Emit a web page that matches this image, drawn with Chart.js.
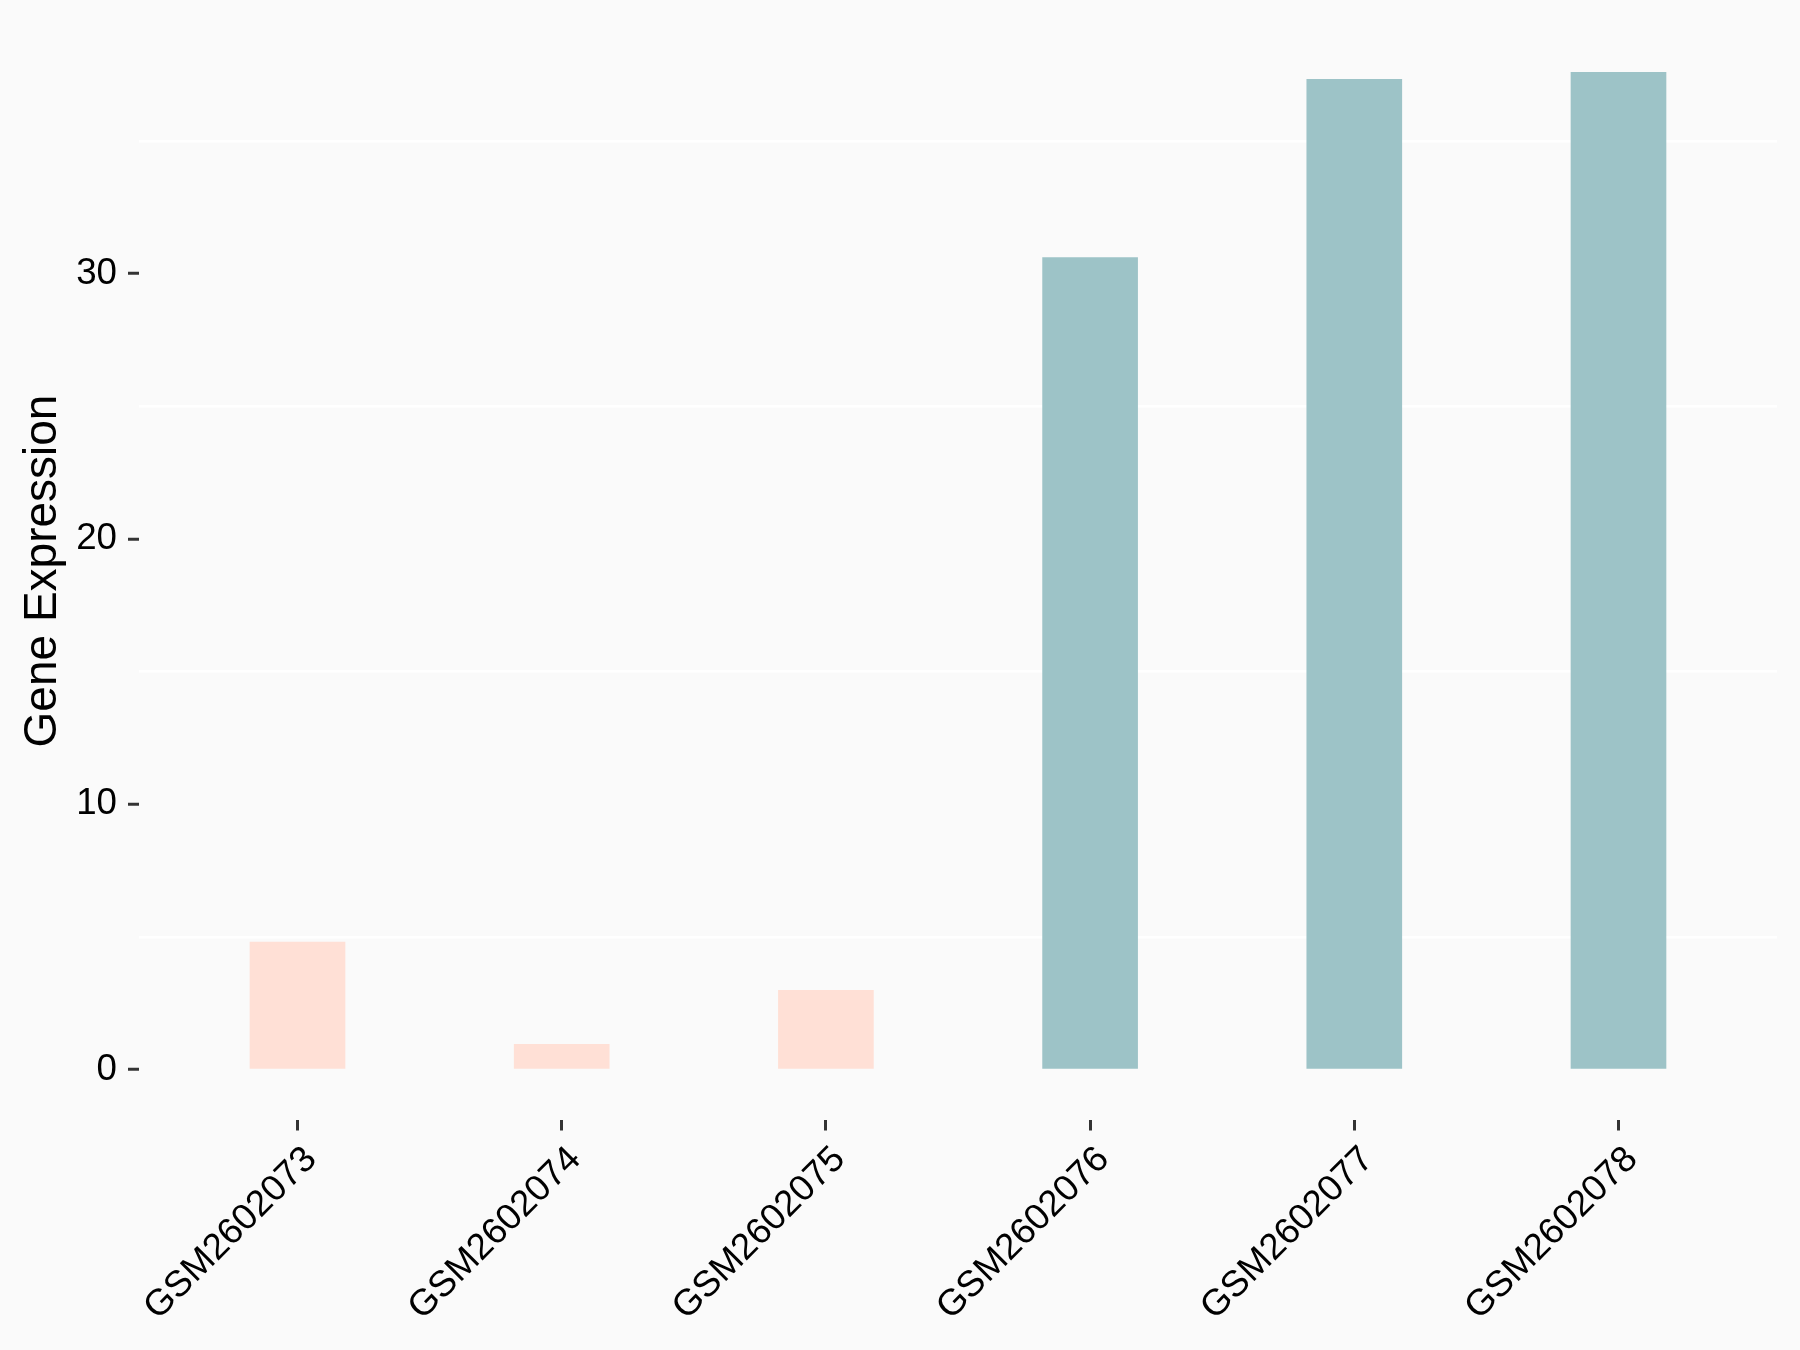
<!DOCTYPE html>
<html>
<head>
<meta charset="utf-8">
<script src="https://cdn.jsdelivr.net/npm/chart.js@4/dist/chart.umd.min.js"></script>
<style>
html, body { margin: 0; padding: 0; background: #FAFAFA; }
canvas { display: block; }
</style>
</head>
<body>
<canvas id="c" width="1800" height="1350"></canvas>
<script>
// ---- data ----
const categories = ["GSM2602073", "GSM2602074", "GSM2602075", "GSM2602076", "GSM2602077", "GSM2602078"];
const expression = [4.81, 0.95, 2.99, 30.6, 37.32, 37.58];
const condition = ["A", "A", "A", "B", "B", "B"];
const yTickValues = [0, 10, 20, 30];
const yGridValues = [5, 15, 25, 35];
const yTitle = "Gene Expression";

// ---- styling ----
const palette = { A: "#FFE0D6", B: "#9DC3C7" };
const FONT = "'Liberation Sans', Arial, sans-serif";
Chart.defaults.font.family = FONT;

const maxV = Math.max(...expression);
const expand = maxV * 0.05;

const bgPlugin = {
  id: "bg",
  beforeDraw(chart) {
    const c = chart.ctx;
    c.save();
    c.fillStyle = "#FAFAFA";
    c.fillRect(0, 0, chart.width, chart.height);
    c.restore();
  }
};

new Chart(document.getElementById("c"), {
  type: "bar",
  data: {
    datasets: [{
      data: categories.map((c, i) => ({ x: i + 1, y: expression[i] })),
      backgroundColor: condition.map(g => palette[g]),
      borderWidth: 0,
      barThickness: 95
    }]
  },
  options: {
    responsive: false,
    animation: false,
    devicePixelRatio: 1,
    layout: { padding: { top: 22.5, right: 23, left: 0, bottom: 0 } },
    plugins: { legend: { display: false }, tooltip: { enabled: false } },
    scales: {
      x: {
        type: "linear",
        offset: false,
        min: 0.4,
        max: 6.6,
        afterBuildTicks: s => { s.ticks = categories.map((c, i) => ({ value: i + 1 })); },
        afterFit: s => { s.height = 1350 - 1119.5; s.paddingLeft = 0; s.paddingRight = 0; },
        border: { display: false },
        grid: { offset: false, drawOnChartArea: false, drawTicks: true, tickLength: 11, tickColor: "#333333", tickWidth: 3 },
        ticks: {
          autoSkip: false,
          minRotation: 45,
          maxRotation: 45,
          padding: 7.5,
          labelOffset: 13.5,
          color: "#000000",
          font: { size: 36.7 },
          callback: v => categories[v - 1]
        }
      },
      y: {
        min: -expand,
        max: maxV + expand,
        afterBuildTicks: s => {
          s.ticks = [...yTickValues, ...yGridValues].sort((a, b) => a - b).map(v => ({ value: v }));
        },
        afterFit: s => { s.width = 139; s.paddingTop = 0; s.paddingBottom = 0; },
        border: { display: false },
        grid: {
          color: c => (c.tick && yGridValues.includes(c.tick.value)) ? "#FFFFFF" : "rgba(0,0,0,0)",
          lineWidth: 2.5,
          drawTicks: true,
          tickLength: 11,
          tickWidth: 3,
          tickColor: c => (c.tick && yTickValues.includes(c.tick.value)) ? "#333333" : "rgba(0,0,0,0)"
        },
        ticks: {
          padding: 11,
          color: "#000000",
          font: { size: 36.7 },
          callback: v => yTickValues.includes(v) ? String(v) : ""
        },
        title: {
          display: true,
          text: yTitle,
          color: "#000000",
          font: { size: 46 },
          padding: { top: 16, bottom: 0 }
        }
      }
    }
  },
  plugins: [bgPlugin]
});
</script>
</body>
</html>
